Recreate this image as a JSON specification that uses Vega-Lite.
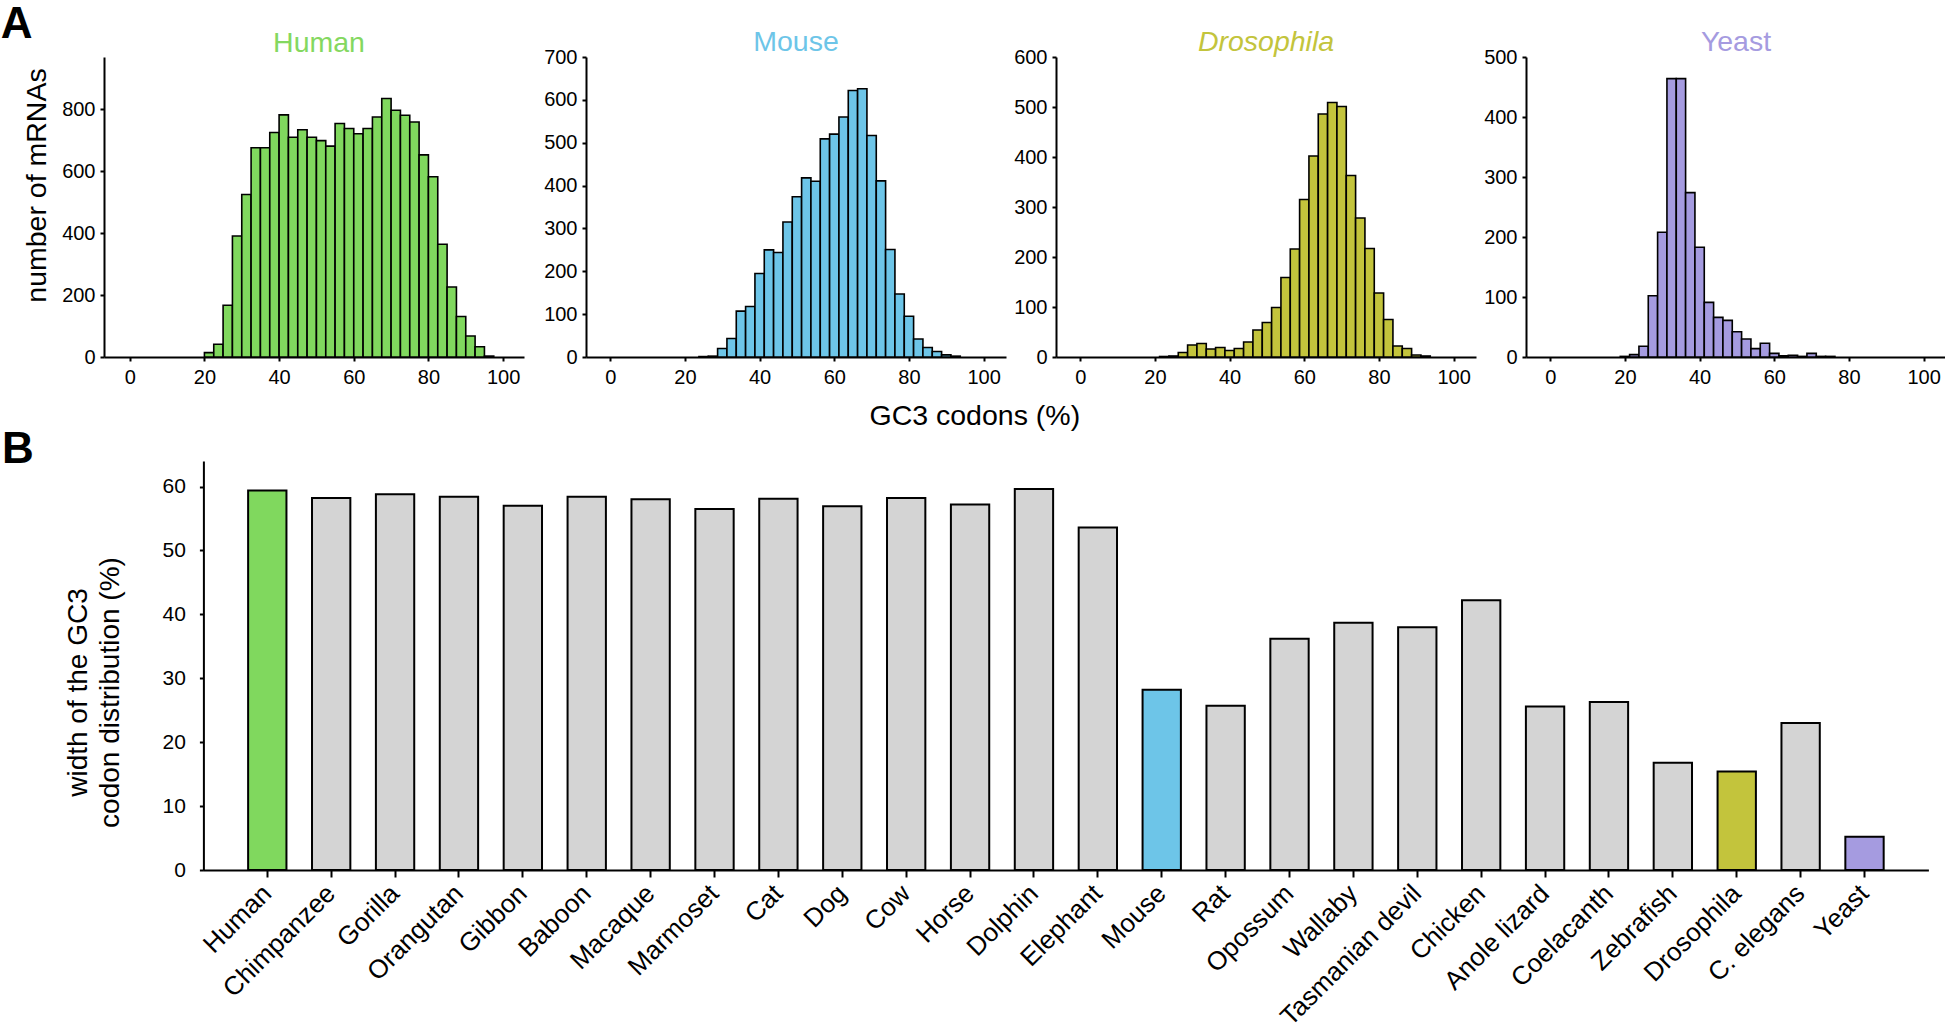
{
  "$schema": "https://vega.github.io/schema/vega-lite/v6.json",
  "padding": {"left": 0, "top": 2, "right": 0, "bottom": 0},
  "background": "white",
  "config": {
    "font": "Liberation Sans",
    "view": {"stroke": null},
    "axis": {"grid": false, "domainColor": "black", "tickColor": "black", "labelColor": "black", "titleColor": "black", "domainWidth": 2, "tickWidth": 2, "labelFont": "Liberation Sans", "titleFont": "Liberation Sans", "titleFontWeight": "normal"},
    "title": {"font": "Liberation Sans", "fontWeight": "normal"}
  },
  "datasets": {
    "human": [
      {"lo": 20, "hi": 22.5, "n": 14}, {"lo": 22.5, "hi": 25, "n": 41}, {"lo": 25, "hi": 27.5, "n": 167}, {"lo": 27.5, "hi": 30, "n": 391},
      {"lo": 30, "hi": 32.5, "n": 525}, {"lo": 32.5, "hi": 35, "n": 676}, {"lo": 35, "hi": 37.5, "n": 676}, {"lo": 37.5, "hi": 40, "n": 725},
      {"lo": 40, "hi": 42.5, "n": 782}, {"lo": 42.5, "hi": 45, "n": 710}, {"lo": 45, "hi": 47.5, "n": 734}, {"lo": 47.5, "hi": 50, "n": 710},
      {"lo": 50, "hi": 52.5, "n": 699}, {"lo": 52.5, "hi": 55, "n": 681}, {"lo": 55, "hi": 57.5, "n": 754}, {"lo": 57.5, "hi": 60, "n": 738},
      {"lo": 60, "hi": 62.5, "n": 721}, {"lo": 62.5, "hi": 65, "n": 738}, {"lo": 65, "hi": 67.5, "n": 775}, {"lo": 67.5, "hi": 70, "n": 835},
      {"lo": 70, "hi": 72.5, "n": 797}, {"lo": 72.5, "hi": 75, "n": 781}, {"lo": 75, "hi": 77.5, "n": 759}, {"lo": 77.5, "hi": 80, "n": 653},
      {"lo": 80, "hi": 82.5, "n": 582}, {"lo": 82.5, "hi": 85, "n": 364}, {"lo": 85, "hi": 87.5, "n": 226}, {"lo": 87.5, "hi": 90, "n": 131},
      {"lo": 90, "hi": 92.5, "n": 68}, {"lo": 92.5, "hi": 95, "n": 33}, {"lo": 95, "hi": 97.5, "n": 3}
    ],
    "mouse": [
      {"lo": 23.75, "hi": 26.25, "n": 1}, {"lo": 26.25, "hi": 28.75, "n": 2}, {"lo": 28.75, "hi": 31.25, "n": 20}, {"lo": 31.25, "hi": 33.75, "n": 43},
      {"lo": 33.75, "hi": 36.25, "n": 107}, {"lo": 36.25, "hi": 38.75, "n": 118}, {"lo": 38.75, "hi": 41.25, "n": 195}, {"lo": 41.25, "hi": 43.75, "n": 250},
      {"lo": 43.75, "hi": 46.25, "n": 244}, {"lo": 46.25, "hi": 48.75, "n": 315}, {"lo": 48.75, "hi": 51.25, "n": 374}, {"lo": 51.25, "hi": 53.75, "n": 418},
      {"lo": 53.75, "hi": 56.25, "n": 410}, {"lo": 56.25, "hi": 58.75, "n": 509}, {"lo": 58.75, "hi": 61.25, "n": 520}, {"lo": 61.25, "hi": 63.75, "n": 560},
      {"lo": 63.75, "hi": 66.25, "n": 622}, {"lo": 66.25, "hi": 68.75, "n": 626}, {"lo": 68.75, "hi": 71.25, "n": 517}, {"lo": 71.25, "hi": 73.75, "n": 411},
      {"lo": 73.75, "hi": 76.25, "n": 251}, {"lo": 76.25, "hi": 78.75, "n": 147}, {"lo": 78.75, "hi": 81.25, "n": 95}, {"lo": 81.25, "hi": 83.75, "n": 42},
      {"lo": 83.75, "hi": 86.25, "n": 22}, {"lo": 86.25, "hi": 88.75, "n": 13}, {"lo": 88.75, "hi": 91.25, "n": 5}, {"lo": 91.25, "hi": 93.75, "n": 2}
    ],
    "drosophila": [
      {"lo": 21.25, "hi": 23.75, "n": 1}, {"lo": 23.75, "hi": 26.25, "n": 2}, {"lo": 26.25, "hi": 28.75, "n": 9}, {"lo": 28.75, "hi": 31.25, "n": 24},
      {"lo": 31.25, "hi": 33.75, "n": 27}, {"lo": 33.75, "hi": 36.25, "n": 16}, {"lo": 36.25, "hi": 38.75, "n": 19}, {"lo": 38.75, "hi": 41.25, "n": 13},
      {"lo": 41.25, "hi": 43.75, "n": 17}, {"lo": 43.75, "hi": 46.25, "n": 30}, {"lo": 46.25, "hi": 48.75, "n": 54}, {"lo": 48.75, "hi": 51.25, "n": 69},
      {"lo": 51.25, "hi": 53.75, "n": 99}, {"lo": 53.75, "hi": 56.25, "n": 159}, {"lo": 56.25, "hi": 58.75, "n": 216}, {"lo": 58.75, "hi": 61.25, "n": 315},
      {"lo": 61.25, "hi": 63.75, "n": 402}, {"lo": 63.75, "hi": 66.25, "n": 486}, {"lo": 66.25, "hi": 68.75, "n": 509}, {"lo": 68.75, "hi": 71.25, "n": 501},
      {"lo": 71.25, "hi": 73.75, "n": 363}, {"lo": 73.75, "hi": 76.25, "n": 278}, {"lo": 76.25, "hi": 78.75, "n": 217}, {"lo": 78.75, "hi": 81.25, "n": 128},
      {"lo": 81.25, "hi": 83.75, "n": 75}, {"lo": 83.75, "hi": 86.25, "n": 22}, {"lo": 86.25, "hi": 88.75, "n": 17}, {"lo": 88.75, "hi": 91.25, "n": 4},
      {"lo": 91.25, "hi": 93.75, "n": 2}
    ],
    "yeast": [
      {"lo": 18.75, "hi": 21.25, "n": 1}, {"lo": 21.25, "hi": 23.75, "n": 4}, {"lo": 23.75, "hi": 26.25, "n": 18}, {"lo": 26.25, "hi": 28.75, "n": 102},
      {"lo": 28.75, "hi": 31.25, "n": 208}, {"lo": 31.25, "hi": 33.75, "n": 464}, {"lo": 33.75, "hi": 36.25, "n": 464}, {"lo": 36.25, "hi": 38.75, "n": 274},
      {"lo": 38.75, "hi": 41.25, "n": 183}, {"lo": 41.25, "hi": 43.75, "n": 91}, {"lo": 43.75, "hi": 46.25, "n": 66}, {"lo": 46.25, "hi": 48.75, "n": 61},
      {"lo": 48.75, "hi": 51.25, "n": 42}, {"lo": 51.25, "hi": 53.75, "n": 30}, {"lo": 53.75, "hi": 56.25, "n": 14}, {"lo": 56.25, "hi": 58.75, "n": 23},
      {"lo": 58.75, "hi": 61.25, "n": 6}, {"lo": 61.25, "hi": 63.75, "n": 2}, {"lo": 63.75, "hi": 66.25, "n": 3}, {"lo": 66.25, "hi": 68.75, "n": 1},
      {"lo": 68.75, "hi": 71.25, "n": 6}, {"lo": 71.25, "hi": 73.75, "n": 1}, {"lo": 73.75, "hi": 76.25, "n": 1}
    ],
    "widths": [
      {"species": "Human", "width": 59.4}, {"species": "Chimpanzee", "width": 58.2}, {"species": "Gorilla", "width": 58.8},
      {"species": "Orangutan", "width": 58.4}, {"species": "Gibbon", "width": 57.0}, {"species": "Baboon", "width": 58.4},
      {"species": "Macaque", "width": 58.0}, {"species": "Marmoset", "width": 56.5}, {"species": "Cat", "width": 58.1},
      {"species": "Dog", "width": 56.9}, {"species": "Cow", "width": 58.2}, {"species": "Horse", "width": 57.2},
      {"species": "Dolphin", "width": 59.6}, {"species": "Elephant", "width": 53.6}, {"species": "Mouse", "width": 28.2},
      {"species": "Rat", "width": 25.7}, {"species": "Opossum", "width": 36.2}, {"species": "Wallaby", "width": 38.7},
      {"species": "Tasmanian devil", "width": 38.0}, {"species": "Chicken", "width": 42.2}, {"species": "Anole lizard", "width": 25.6},
      {"species": "Coelacanth", "width": 26.3}, {"species": "Zebrafish", "width": 16.8}, {"species": "Drosophila", "width": 15.4},
      {"species": "C. elegans", "width": 23.0}, {"species": "Yeast", "width": 5.2}
    ]
  },
  "spacing": -3,
  "vconcat": [
    {
      "title": {"text": "A", "anchor": "start", "frame": "bounds", "fontSize": 44, "fontWeight": "bold", "dx": -22, "dy": 19, "offset": 0},
      "spacing": 19,
      "hconcat": [
        {
          "width": 420, "height": 300,
          "data": {"name": "human"},
          "title": {"text": "Human", "color": "#84D860", "fontSize": 28.5, "offset": 0, "dx": 5},
          "mark": {"type": "bar", "stroke": "black", "strokeWidth": 1.6, "fill": "#80D85E"},
          "encoding": {
            "x": {"field": "lo", "type": "quantitative", "scale": {"domain": [-6.9, 105.6], "nice": false, "zero": false},
                  "axis": {"values": [0, 20, 40, 60, 80, 100], "title": null, "labelFontSize": 20, "tickSize": 4, "labelPadding": 6, "labelFlush": false}},
            "x2": {"field": "hi"},
            "y": {"field": "n", "type": "quantitative", "scale": {"domain": [0, 969], "nice": false},
                  "axis": {"values": [0, 200, 400, 600, 800], "title": "number of mRNAs", "titleFontSize": 28.5, "titleY": 128, "labelFontSize": 20, "tickSize": 4, "labelPadding": 5, "titlePadding": 10}},
            "y2": {"datum": 0}
          }
        },
        {
          "spacing": 7,
          "title": {"text": "GC3 codons (%)", "orient": "bottom", "anchor": "middle", "fontSize": 28.5, "offset": 15, "dx": -270},
          "hconcat": [
            {
              "width": 420, "height": 300,
              "data": {"name": "mouse"},
              "title": {"text": "Mouse", "color": "#6DC5E8", "fontSize": 28.5, "offset": -9},
              "mark": {"type": "bar", "stroke": "black", "strokeWidth": 1.6, "fill": "#6DC5E8"},
              "encoding": {
                "x": {"field": "lo", "type": "quantitative", "scale": {"domain": [-6.5, 106], "nice": false, "zero": false},
                      "axis": {"values": [0, 20, 40, 60, 80, 100], "title": null, "labelFontSize": 20, "tickSize": 4, "labelPadding": 6, "labelFlush": false}},
                "x2": {"field": "hi"},
                "y": {"field": "n", "type": "quantitative", "scale": {"domain": [0, 700], "nice": false},
                      "axis": {"values": [0, 100, 200, 300, 400, 500, 600, 700], "title": null, "labelFontSize": 20, "tickSize": 4, "labelPadding": 5}},
                "y2": {"datum": 0}
              }
            },
            {
              "width": 420, "height": 300,
              "data": {"name": "drosophila"},
              "title": {"text": "Drosophila", "color": "#C3C43C", "fontSize": 28.5, "fontStyle": "italic", "offset": -9},
              "mark": {"type": "bar", "stroke": "black", "strokeWidth": 1.6, "fill": "#C3C43C"},
              "encoding": {
                "x": {"field": "lo", "type": "quantitative", "scale": {"domain": [-6.5, 106], "nice": false, "zero": false},
                      "axis": {"values": [0, 20, 40, 60, 80, 100], "title": null, "labelFontSize": 20, "tickSize": 4, "labelPadding": 6, "labelFlush": false}},
                "x2": {"field": "hi"},
                "y": {"field": "n", "type": "quantitative", "scale": {"domain": [0, 600], "nice": false},
                      "axis": {"values": [0, 100, 200, 300, 400, 500, 600], "title": null, "labelFontSize": 20, "tickSize": 4, "labelPadding": 5}},
                "y2": {"datum": 0}
              }
            },
            {
              "width": 420, "height": 300,
              "data": {"name": "yeast"},
              "title": {"text": "Yeast", "color": "#A59BE0", "fontSize": 28.5, "offset": -9},
              "mark": {"type": "bar", "stroke": "black", "strokeWidth": 1.6, "fill": "#A59BE0"},
              "encoding": {
                "x": {"field": "lo", "type": "quantitative", "scale": {"domain": [-6.5, 106], "nice": false, "zero": false},
                      "axis": {"values": [0, 20, 40, 60, 80, 100], "title": null, "labelFontSize": 20, "tickSize": 4, "labelPadding": 6, "labelFlush": false}},
                "x2": {"field": "hi"},
                "y": {"field": "n", "type": "quantitative", "scale": {"domain": [0, 500], "nice": false},
                      "axis": {"values": [0, 100, 200, 300, 400, 500], "title": null, "labelFontSize": 20, "tickSize": 4, "labelPadding": 5}},
                "y2": {"datum": 0}
              }
            }
          ]
        }
      ]
    },
    {
      "width": 1824.4, "height": 409,
      "data": {"name": "widths"},
      "title": {"text": "B", "anchor": "start", "frame": "bounds", "fontSize": 44, "fontWeight": "bold", "dx": -62, "dy": 11, "offset": 0},
      "mark": {"type": "bar", "stroke": "black", "strokeWidth": 2},
      "encoding": {
        "x": {"field": "species", "type": "nominal", "sort": null,
              "scale": {"range": [99.4, 1824.4], "paddingInner": 0.4, "paddingOuter": 0.7},
              "axis": {"title": null, "labelAngle": -45, "labelAlign": "right", "labelBaseline": "middle", "labelFontSize": 26, "labelLimit": 400, "tickSize": 7, "labelPadding": 12,
                       "encode": {"labels": {"update": {
                         "fill": {"signal": "datum.value === 'Human' ? '#84D860' : datum.value === 'Mouse' ? '#6DC5E8' : datum.value === 'Drosophila' ? '#C3C43C' : datum.value === 'Yeast' ? '#A59BE0' : 'black'"},
                         "fontStyle": {"signal": "datum.value === 'Drosophila' || datum.value === 'C. elegans' ? 'italic' : 'normal'"}
                       }}}}},
        "y": {"field": "width", "type": "quantitative", "scale": {"domain": [0, 64], "nice": false},
              "axis": {"values": [0, 10, 20, 30, 40, 50, 60], "offset": -99.4, "title": ["width of the GC3", "codon distribution (%)"], "titleFontSize": 28, "titleLineHeight": 32, "titleY": 231, "labelFontSize": 21, "tickSize": 4, "labelPadding": 14, "titlePadding": 38}},
        "fill": {"condition": [
                  {"test": "datum.species === 'Human'", "value": "#80D85E"},
                  {"test": "datum.species === 'Mouse'", "value": "#6DC5E8"},
                  {"test": "datum.species === 'Drosophila'", "value": "#C3C43C"},
                  {"test": "datum.species === 'Yeast'", "value": "#A59BE0"}
                ], "value": "#D4D4D4"}
      }
    }
  ]
}
